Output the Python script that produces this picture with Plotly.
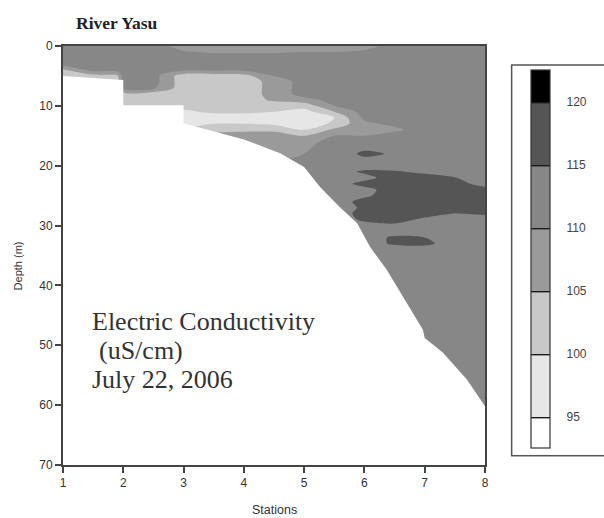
import numpy as np
import plotly.graph_objects as go

# ---------------- data ----------------
# depth levels (m) of the gridded conductivity section
depths = [0, 1, 2, 3, 4, 5, 6, 7, 8, 9, 10, 11, 12, 13, 14, 15, 16, 18, 20,
          21, 22, 23, 24, 25, 26, 27, 28, 29, 30, 31, 32, 33, 34, 36, 45, 62]

# station positions of the gridded profiles
grid_stations = [1.0, 1.5, 1.9, 2.0, 2.5, 3.0, 3.5, 4.0, 4.5, 5.0, 5.5,
                 6.0, 6.5, 7.0, 7.5, 8.0]

# electric conductivity profiles (uS/cm), one per grid station, top to bottom
ec_s1_0 = [112, 112, 112, 112, 104, 102, 102, 102, 102, 102, 102, 102, 102, 102, 102, 102, 102, 102,
           102, 102, 102, 102, 102, 102, 102, 102, 102, 102, 102, 102, 102, 102, 102, 102, 102, 102]
ec_s1_5 = [112, 112, 112, 112, 112, 103, 102, 102, 102, 102, 102, 102, 102, 102, 102, 102, 102, 102,
           102, 102, 102, 102, 102, 102, 102, 102, 102, 102, 102, 102, 102, 102, 102, 102, 102, 102]
ec_s1_9 = [112, 112, 112, 112, 112, 104, 102, 102, 102, 102, 102, 102, 102, 102, 102, 102, 102, 102,
           102, 102, 102, 102, 102, 102, 102, 102, 102, 102, 102, 102, 102, 102, 102, 102, 102, 102]
ec_s2_0 = [112, 112, 112, 112, 112, 112, 112, 112, 103, 102, 102, 102, 102, 102, 102, 102, 102, 102,
           102, 102, 102, 102, 102, 102, 102, 102, 102, 102, 102, 102, 102, 102, 102, 102, 102, 102]
ec_s2_5 = [112, 112, 112, 112, 112, 112, 112, 111, 102, 102, 102, 102, 102, 102, 102, 102, 102, 102,
           102, 102, 102, 102, 102, 102, 102, 102, 102, 102, 102, 102, 102, 102, 102, 102, 102, 102]
ec_s3_0 = [108, 110.5, 112, 112, 111, 102, 102, 102, 102, 102, 102, 99, 97, 97, 102, 104, 106, 107,
           107, 107, 107, 107, 107, 107, 107, 107, 107, 107, 107, 107, 107, 107, 107, 107, 107, 107]
ec_s3_5 = [107, 109.5, 112, 112, 111, 102, 102, 102, 102, 102, 102, 101, 97, 100, 103, 107, 107, 107,
           108, 110, 110, 110, 110, 110, 110, 110, 110, 110, 110, 110, 110, 110, 110, 110, 110, 110]
ec_s4_0 = [107, 109.5, 112, 112, 111, 103, 102, 102, 102, 102, 102, 101, 97, 100, 104, 107, 107, 107,
           108, 110, 110, 110, 110, 110, 110, 110, 110, 110, 110, 110, 110, 110, 110, 110, 110, 110]
ec_s4_5 = [107, 109.5, 112, 112, 112, 110, 107, 107, 107, 106, 102, 100, 97, 99, 104, 107, 107, 108,
           110, 110, 110, 110, 110, 110, 110, 110, 110, 110, 110, 110, 110, 110, 110, 110, 110, 110]
ec_s5_0 = [108, 110, 112, 112, 112, 112, 112, 112, 112, 108, 102, 98, 97, 97, 100, 105, 108, 110,
           111, 112, 112, 112, 112, 112, 112, 112, 112, 112, 112, 112, 112, 112, 112, 112, 112, 112]
ec_s5_5 = [108, 110, 112, 112, 112, 112, 112, 112, 112, 112, 110, 105, 100, 101, 106, 110, 112, 112,
           112, 112, 112, 112, 112, 112, 112, 112, 112, 112, 112, 112, 112, 112, 112, 112, 112, 112]
ec_s6_0 = [108, 111, 112, 112, 112, 112, 112, 112, 112, 112, 112, 112, 111, 109, 107, 110, 112, 116,
           112, 116, 113, 117, 113, 114, 117, 116, 117, 116, 113, 112, 112, 112, 112, 112, 112, 112]
ec_s6_5 = [112, 112, 112, 112, 112, 112, 112, 112, 112, 112, 112, 112, 112, 111, 109, 112, 112, 114.5,
           112, 115.5, 118, 118, 118, 118, 118, 118, 118, 117, 114, 112, 116, 116, 112, 112, 112, 112]
ec_s7_0 = [112, 112, 112, 112, 112, 112, 112, 112, 112, 112, 112, 112, 112, 112, 112, 112, 112, 112,
           112, 114, 117, 118, 118, 118, 118, 118, 117, 114, 112, 112, 115, 116.5, 112, 112, 112, 112]
ec_s7_5 = [112, 112, 112, 112, 112, 112, 112, 112, 112, 112, 112, 112, 112, 112, 112, 112, 112, 112,
           112, 112, 115.2, 117, 118, 118, 118, 118, 114.8, 112, 112, 112, 112, 112, 112, 112, 112, 112]
ec_s8_0 = [112, 112, 112, 112, 112, 112, 112, 112, 112, 112, 112, 112, 112, 112, 112, 112, 112, 112,
           112, 112, 112, 113, 117, 118, 118, 117, 116, 112, 112, 112, 112, 112, 112, 112, 112, 112]

# lake-bottom profile (station, depth m)
bottom_station = [1.0, 2.0, 2.0, 3.0, 3.0, 3.5, 4.0, 4.6, 5.0, 5.26, 5.59, 5.88,
                  6.09, 6.37, 6.75, 6.97, 7.0, 7.3, 7.7, 8.0]
bottom_depth = [5.0, 5.7, 9.9, 9.9, 12.9, 14.2, 15.6, 17.9, 20.2, 23.5, 26.9, 29.6,
                33.5, 37.4, 43.6, 47.4, 48.8, 51.2, 55.7, 60.2]

level_ticks = [95, 100, 105, 110, 115, 120]
station_ticks = [1, 2, 3, 4, 5, 6, 7, 8]
depth_ticks = [0, 10, 20, 30, 40, 50, 60, 70]

# ---------------- figure ----------------
z = np.column_stack([ec_s1_0, ec_s1_5, ec_s1_9, ec_s2_0, ec_s2_5, ec_s3_0, ec_s3_5,
                     ec_s4_0, ec_s4_5, ec_s5_0, ec_s5_5, ec_s6_0, ec_s6_5, ec_s7_0,
                     ec_s7_5, ec_s8_0])

grays = [[0.0, "#ffffff"], [1 / 6, "#e6e6e6"], [2 / 6, "#c8c8c8"], [3 / 6, "#9a9a9a"],
         [4 / 6, "#878787"], [5 / 6, "#555555"], [1.0, "#000000"]]
contours = dict(start=95, end=120, size=5, coloring="fill")

fig = go.Figure()
fig.add_trace(go.Contour(
    x=grid_stations, y=depths, z=z, colorscale=grays, autocontour=False,
    contours=dict(contours, showlines=False), line=dict(width=0, smoothing=0.9),
    showscale=False, hoverinfo="skip"))

# white area below the lake bottom
fig.add_trace(go.Scatter(
    x=bottom_station + [8.0, 1.0], y=bottom_depth + [70, 70], mode="lines",
    fill="toself", fillcolor="white", line=dict(width=0, color="white"),
    hoverinfo="skip", showlegend=False))

# legend (colour bar) carried by an off-range copy of the scale
fig.add_trace(go.Contour(
    x=[20, 21], y=[80, 81], z=[[93, 122], [93, 122]], colorscale=grays,
    autocontour=False, contours=dict(contours, showlines=True),
    line=dict(color="#1a1a1a", width=1.4), hoverinfo="skip",
    colorbar=dict(
        x=513 / 604, xanchor="left", xref="container", y=0.4917, yanchor="middle",
        len=388, lenmode="pixels", thickness=19, thicknessmode="pixels",
        xpad=18, ypad=5, bgcolor="white", bordercolor="#555555", borderwidth=1.5,
        outlinecolor="#333333", outlinewidth=1.2,
        tickmode="array", tickvals=level_ticks, ticktext=[str(v) for v in level_ticks],
        ticks="outside", ticklen=14, tickcolor="rgba(0,0,0,0)",
        tickfont=dict(family="Arial, Liberation Sans, sans-serif", size=12, color="#444444"))))

axis_common = dict(showgrid=False, zeroline=False, showline=True, linecolor="#444444",
                   linewidth=2, mirror=True, ticks="outside", ticklen=6, tickwidth=2,
                   tickcolor="#444444",
                   tickfont=dict(family="Arial, Liberation Sans, sans-serif", size=12,
                                 color="#333333"))

serif = "Liberation Serif, Times New Roman, serif"
sans = "Arial, Liberation Sans, sans-serif"

fig.update_layout(
    width=604, height=518, autosize=False,
    margin=dict(l=63, r=119, t=46, b=53),
    paper_bgcolor="white", plot_bgcolor="white", showlegend=False,
    xaxis=dict(axis_common, range=[1, 8], tickmode="array", tickvals=station_ticks),
    yaxis=dict(axis_common, range=[70, 0], tickmode="array", tickvals=depth_ticks),
    annotations=[
        dict(text="<b>River Yasu</b>", xref="paper", yref="paper", x=0.026, y=1.055,
             xanchor="left", yanchor="middle", showarrow=False,
             font=dict(family=serif, size=17.5, color="#222")),
        dict(text="Depth (m)", xref="paper", yref="paper", x=-0.107, y=0.476,
             textangle=-90, xanchor="center", yanchor="middle", showarrow=False,
             font=dict(family=sans, size=11, color="#333")),
        dict(text="Stations", xref="paper", yref="paper", x=0.502, y=-0.107,
             xanchor="center", yanchor="middle", showarrow=False,
             font=dict(family=sans, size=12.5, color="#333")),
        dict(text="Electric Conductivity", xref="x", yref="y", x=1.445, y=46.0,
             xanchor="left", yanchor="middle", showarrow=False,
             font=dict(family=serif, size=26, color="#333")),
        dict(text="(uS/cm)", xref="x", yref="y", x=1.559, y=50.85,
             xanchor="left", yanchor="middle", showarrow=False,
             font=dict(family=serif, size=26, color="#333")),
        dict(text="July 22, 2006", xref="x", yref="y", x=1.445, y=55.7,
             xanchor="left", yanchor="middle", showarrow=False,
             font=dict(family=serif, size=26, color="#333")),
    ],
)

fig.write_html("out.html", config={"responsive": False, "displayModeBar": False},
               post_script="document.body.style.margin='0px';"
                           "document.body.style.overflow='hidden';")
